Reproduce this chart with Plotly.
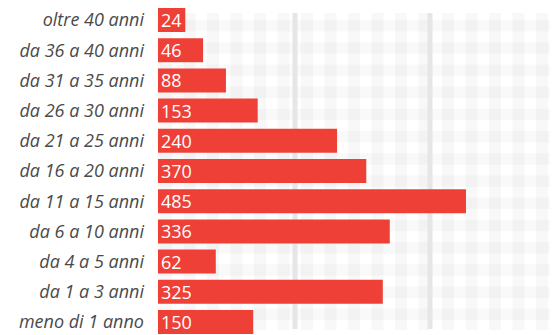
import plotly.graph_objects as go

# Data (bottom to top as drawn)
categories = ["meno di 1 anno", "da 1 a 3 anni", "da 4 a 5 anni", "da 6 a 10 anni",
              "da 11 a 15 anni", "da 16 a 20 anni", "da 21 a 25 anni", "da 26 a 30 anni",
              "da 31 a 35 anni", "da 36 a 40 anni", "oltre 40 anni"]
counts = [150, 325, 62, 336, 485, 370, 240, 153, 88, 46, 24]
# bar lengths as drawn in the picture (estimated)
bar_lengths = [150, 354, 91, 365, 485, 328, 282, 157, 107, 71, 43]

OFF = 8                      # page body margin
W, H = 558 - OFF, 335 - OFF  # figure size
L = 158 - OFF                # left margin (plot area start)

fig = go.Figure()
fig.add_trace(go.Bar(
    y=categories, x=bar_lengths, orientation="h",
    marker=dict(color="#EE4036", line=dict(width=0)),
    text=[str(c) for c in counts], textposition="inside", insidetextanchor="start",
    textangle=0,
    textfont=dict(color="white", size=18, family="Open Sans"),
    constraintext="none", cliponaxis=False, hoverinfo="skip",
))

shapes = []
def px_x(px):  # reference-page pixel -> paper x
    return (px - OFF - L) / (W - L)
def px_y(py):  # reference-page pixel -> paper y
    return 1 - (py - OFF) / H

top, bot = 13, 330
RIGHT = 558
x = 160.0
while x < RIGHT:
    shapes.append(dict(type="rect", xref="paper", yref="paper", layer="below",
                       x0=px_x(x), x1=px_x(min(x + 12, RIGHT)), y0=px_y(bot), y1=px_y(top),
                       fillcolor="rgba(0,0,0,0.028)", line=dict(width=0)))
    x += 23.5
y = 20.0 - 22.2
while y < bot:
    y0 = max(y, top)
    y1 = min(y + 11.5, bot)
    if y1 > y0:
        shapes.append(dict(type="rect", xref="paper", yref="paper", layer="below",
                           x0=px_x(157), x1=1, y0=px_y(y1), y1=px_y(y0),
                           fillcolor="rgba(0,0,0,0.025)", line=dict(width=0)))
    y += 22.2
for gx in (295, 430):
    shapes.append(dict(type="rect", xref="paper", yref="paper", layer="below",
                       x0=px_x(gx - 2.5), x1=px_x(gx + 2.5), y0=px_y(329), y1=px_y(top),
                       fillcolor="#e6e6e8", line=dict(width=0)))

pitch = 30.2
ytop = (len(categories) - 0.5) + (4.9 - OFF) / pitch
ybot = ytop - H / pitch

fig.update_layout(
    width=W, height=H,
    margin=dict(l=L, r=0, t=0, b=0),
    paper_bgcolor="white", plot_bgcolor="rgba(0,0,0,0)",
    showlegend=False, bargap=0.205,
    shapes=shapes,
    xaxis=dict(range=[0, (W - L) / 0.635], visible=False, showgrid=False, zeroline=False),
    yaxis=dict(range=[ybot, ytop], showgrid=False, zeroline=False, showline=False,
               ticks="", ticklabelstandoff=13, automargin=False,
               tickfont=dict(family="Open Sans", size=18, color="#4a4a4a", style="italic")),
)

fig.write_html("out.html")
